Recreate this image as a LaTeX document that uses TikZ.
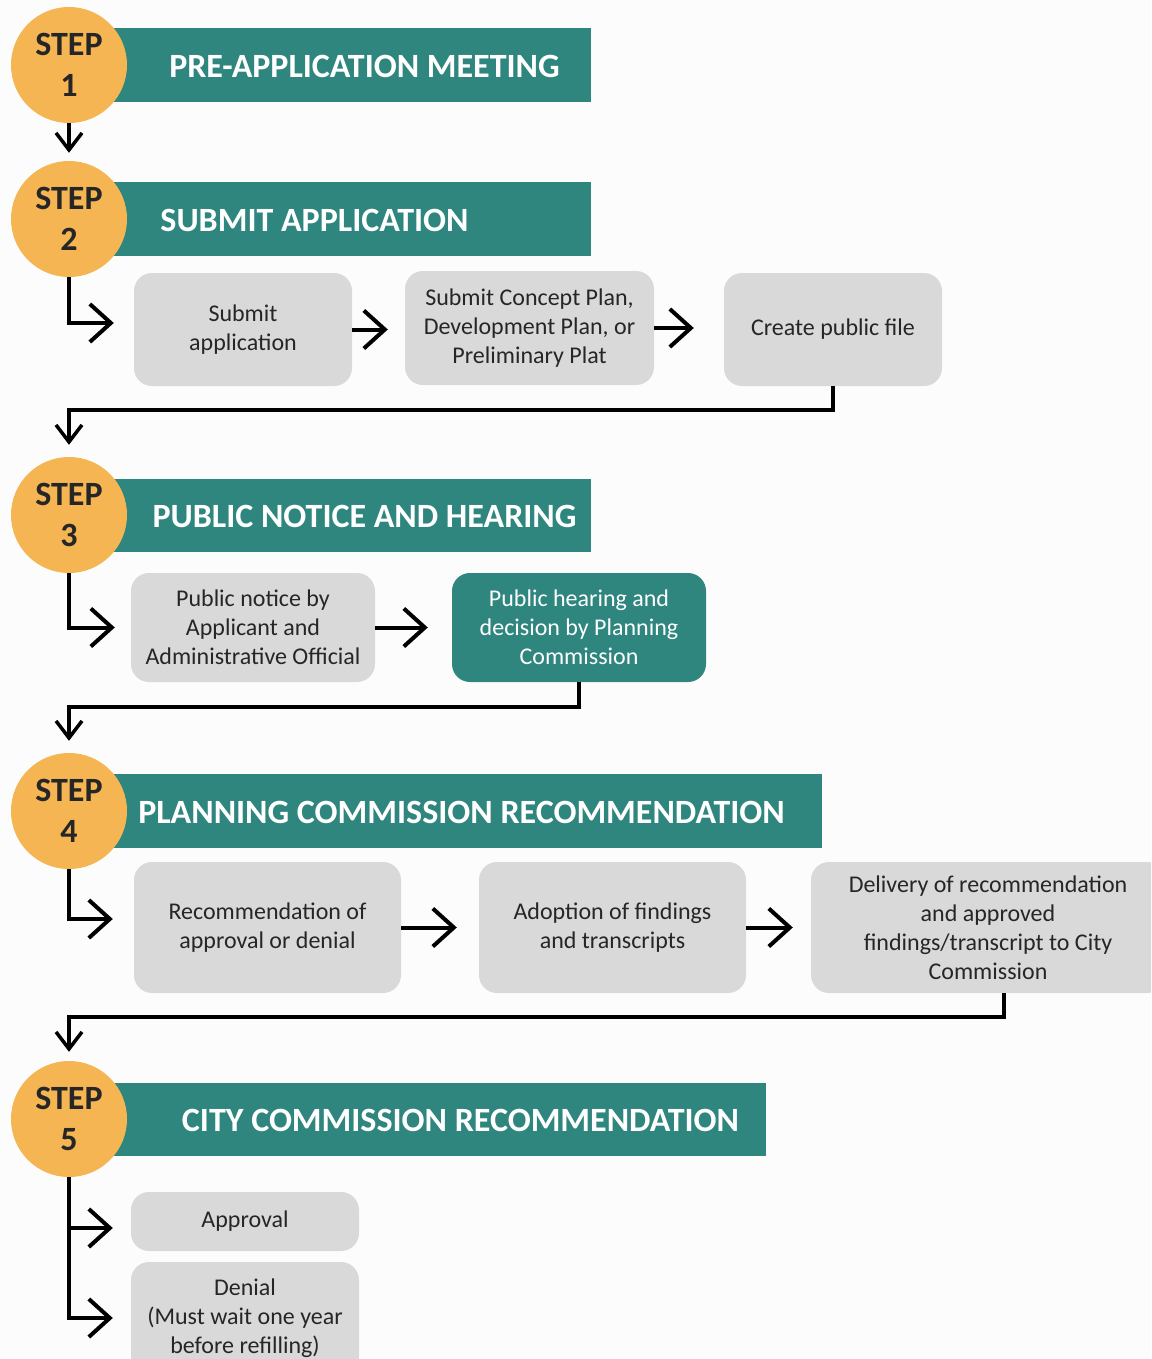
\documentclass[tikz,border=0pt]{standalone}
\usepackage{fontspec}
\setmainfont{Carlito}
\usetikzlibrary{arrows.meta,calc}
\definecolor{teal1}{HTML}{2E867E}
\definecolor{orange1}{HTML}{F5B553}
\definecolor{grey1}{HTML}{D9D9D9}
\definecolor{ink}{HTML}{262626}
\definecolor{bg}{HTML}{FCFCFC}
\begin{document}
\begin{tikzpicture}[x=1pt,y=-1pt,
  stepcircle/.style={circle, fill=orange1, minimum size=116pt, inner sep=0pt,
    font=\fontsize{34}{41}\selectfont\bfseries, text=ink, align=center},
  band/.style={fill=teal1, inner sep=0pt, rectangle},
  head/.style={font=\fontsize{34}{40}\selectfont\bfseries, text=white, inner sep=0pt},
  box/.style={fill=grey1, rounded corners=18pt, align=center,
    font=\fontsize{24}{29}\selectfont, text=ink, inner sep=0pt},
  tbox/.style={box, fill=teal1, text=white},
  conn/.style={line width=4pt, draw=black, -{Straight Barb[length=21pt,width=38pt]}},
  connd/.style={line width=3.5pt, draw=black, -{Straight Barb[length=17pt,width=26pt]}},
]
\useasboundingbox (0,0) rectangle (1151,1359);
\clip (0,0) rectangle (1151,1359);
\fill[bg] (0,0) rectangle (1151,1359);

% bands
\node[band, minimum width=491pt, minimum height=74pt] (b1) at (345.5,65) {};
\node[band, minimum width=491pt, minimum height=74pt] (b2) at (345.5,219) {};
\node[band, minimum width=491pt, minimum height=73pt] (b3) at (345.5,515.5) {};
\node[band, minimum width=722pt, minimum height=74pt] (b4) at (461,811) {};
\node[band, minimum width=666pt, minimum height=73pt] (b5) at (433,1119.5) {};

\node[head] (h1) at (364.5,66) {PRE-APPLICATION MEETING};
\node[head] (h2) at (314.5,220) {SUBMIT APPLICATION};
\node[head] (h3) at (364.5,516) {PUBLIC NOTICE AND HEARING};
\node[head] (h4) at (461.5,812) {PLANNING COMMISSION RECOMMENDATION};
\node[head] (h5) at (460.5,1120) {CITY COMMISSION RECOMMENDATION};

% step circles
\node[stepcircle] (s1) at (69,65) {STEP\\1};
\node[stepcircle] (s2) at (69,219) {STEP\\2};
\node[stepcircle] (s3) at (69,515) {STEP\\3};
\node[stepcircle] (s4) at (69,811) {STEP\\4};
\node[stepcircle] (s5) at (69,1119) {STEP\\5};

% boxes
\node[box, minimum width=218pt, minimum height=113pt] (A) at (243,329.5) {Submit\\application};
\node[box, minimum width=249pt, minimum height=114pt] (B) at (529.5,328) {Submit Concept Plan,\\Development Plan, or\\Preliminary Plat};
\node[box, minimum width=218pt, minimum height=113pt] (C) at (833,329.5) {Create public file};
\node[box, minimum width=244pt, minimum height=109pt] (D) at (253,627.5) {Public notice by\\Applicant and\\Administrative Official};
\node[tbox, minimum width=254pt, minimum height=109pt] (E) at (579,627.5) {Public hearing and\\decision by Planning\\Commission};
\node[box, minimum width=267pt, minimum height=131pt] (F) at (267.5,927.5) {Recommendation of\\approval or denial};
\node[box, minimum width=267pt, minimum height=131pt] (G) at (612.5,927.5) {Adoption of findings\\and transcripts};
\node[box, minimum width=354pt, minimum height=131pt] (H) at (988,927.5) {Delivery of recommendation\\and approved\\findings/transcript to City\\Commission};
\node[box, minimum width=228pt, minimum height=59pt] (I) at (245,1221.5) {Approval};
\node[box, minimum width=228pt, minimum height=112pt] (J) at (245,1318) {Denial\\(Must wait one year\\before refilling)};

% connectors
\draw[connd, shorten >=8pt] (s1.south) -- (s2.north);
\draw[conn, shorten >=20pt] (s2.south) |- ([yshift=6.5pt]A.west);
\draw[conn, shorten >=17pt] (A.east) -- (A.east -| B.west);
\draw[conn, shorten >=30pt] (B.east) -- (B.east -| C.west);
\draw[connd, shorten >=12pt] (C.south) -- ++(0,24) -| (s3.north);

\draw[conn, shorten >=16pt] (s3.south) |- (D.west);
\draw[conn, shorten >=24pt] (D.east) -- (D.east -| E.west);
\draw[connd, shorten >=12pt] (E.south) -- ++(0,25) -| (s4.north);

\draw[conn, shorten >=21pt] (s4.south) |- ([yshift=8.5pt]F.west);
\draw[conn, shorten >=22pt] (F.east) -- (F.east -| G.west);
\draw[conn, shorten >=18pt] (G.east) -- (G.east -| H.west);
\draw[connd, shorten >=9pt] ([xshift=16pt]H.south) -- ++(0,24) -| (s5.north);

\draw[conn, shorten >=18pt] (s5.south) |- ([yshift=-6.5pt]I.west);
\draw[conn, shorten >=18pt] (s5.south) |- (J.west);
\end{tikzpicture}
\end{document}
